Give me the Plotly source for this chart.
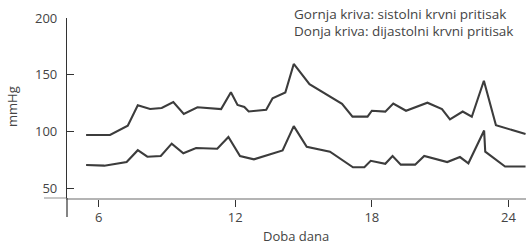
import plotly.graph_objects as go

# Hour of day (x) and blood pressure in mmHg (y)
sys_hours = [5.45, 6.50, 7.28, 7.72, 8.26, 8.77, 9.28, 9.74, 10.34, 11.38, 11.81, 12.10,
             12.40, 12.59, 13.36, 13.64, 14.20, 14.57, 15.26, 16.69, 17.15, 17.81, 18.00,
             18.59, 18.94, 19.50, 20.44, 21.08, 21.43, 21.99, 22.39, 22.92, 23.45, 24.75]
systolic = [96.9, 96.9, 105.1, 123.1, 119.8, 120.7, 126.0, 115.4, 121.4, 119.8, 134.6, 123.4,
            121.6, 117.6, 119.1, 129.3, 134.4, 159.5, 141.7, 124.3, 113.1, 113.1, 118.3,
            117.5, 124.7, 118.3, 125.4, 119.7, 110.6, 117.6, 113.0, 144.7, 105.5, 97.8]

dia_hours = [5.45, 6.25, 7.23, 7.72, 8.14, 8.73, 9.21, 9.72, 10.28, 11.21, 11.70, 12.21,
             12.82, 14.08, 14.57, 15.14, 16.16, 17.17, 17.67, 17.95, 18.59, 18.91, 19.27,
             19.90, 20.30, 21.31, 21.87, 22.24, 22.93, 22.98, 23.85, 24.75]
diastolic = [70.5, 69.9, 73.1, 83.5, 77.8, 78.4, 89.3, 80.8, 85.5, 84.8, 95.2, 78.4,
             75.5, 83.3, 104.7, 86.5, 82.2, 68.5, 68.5, 74.2, 71.6, 78.3, 70.8,
             70.8, 78.4, 73.1, 77.5, 72.0, 100.9, 82.2, 69.2, 69.2]

x_ticks = [6, 12, 18, 24]
y_ticks = [50, 100, 150, 200]
note_lines = ["Gornja kriva: sistolni krvni pritisak", "Donja kriva: dijastolni krvni pritisak"]
x_title = "Doba dana"
y_title = "mmHg"

FONT = "Open Sans"
TXT = "#444444"
LINE = "#3c3c3c"
W, H = 526, 244
L, R, T, B = 67, 0, 18, 46
PW, PH = W - L - R, H - T - B


def px_x(px):
    return (px - L) / PW


def px_y(py):
    return 1 - (py - T) / PH


fig = go.Figure()
fig.add_trace(go.Scatter(x=sys_hours, y=systolic, mode="lines",
                         line=dict(color=LINE, width=2.1), hoverinfo="skip"))
fig.add_trace(go.Scatter(x=dia_hours, y=diastolic, mode="lines",
                         line=dict(color=LINE, width=2.1), hoverinfo="skip"))

fig.update_layout(
    width=W, height=H,
    margin=dict(l=L, r=R, t=T, b=B, autoexpand=False),
    paper_bgcolor="white", plot_bgcolor="white",
    showlegend=False,
    font=dict(family=FONT, size=13, color=TXT),
    xaxis=dict(range=[4.611, 24.77], tickvals=x_ticks, ticktext=[str(v) for v in x_ticks],
               showgrid=False, zeroline=False, showline=True, linecolor="#b4b4b4", linewidth=1.5,
               ticks="outside", ticklen=7, tickcolor="#333333", tickwidth=1.2,
               automargin=False, tickfont=dict(size=13, color=TXT)),
    yaxis=dict(range=[41.42, 200], tickvals=y_ticks, ticktext=[str(v) for v in y_ticks],
               showgrid=False, zeroline=False, showline=True, linecolor="#333333", linewidth=1.2,
               ticks="inside", ticklen=7, tickcolor="#333333", tickwidth=1.2,
               ticklabelstandoff=6,
               automargin=False, tickfont=dict(size=13, color=TXT)),
)

# extensions of the axis lines beyond the plotting area
fig.add_shape(type="line", xref="paper", yref="paper", x0=px_x(44), x1=0, y0=0, y1=0,
              line=dict(color="#b4b4b4", width=1.5), layer="below")
fig.add_shape(type="line", xref="paper", yref="paper", x0=0, x1=0, y0=px_y(217), y1=0,
              line=dict(color="#333333", width=1.2))

fig.add_annotation(text=note_lines[0], x=px_x(292), y=px_y(14), xref="paper", yref="paper",
                   xanchor="left", yanchor="middle", showarrow=False, font=dict(size=13.5, color=TXT))
fig.add_annotation(text=note_lines[1], x=px_x(292), y=px_y(31), xref="paper", yref="paper",
                   xanchor="left", yanchor="middle", showarrow=False, font=dict(size=13.5, color=TXT))
fig.add_annotation(text=x_title, x=px_x(296), y=px_y(235.5), xref="paper", yref="paper",
                   xanchor="center", yanchor="middle", showarrow=False, borderpad=0,
                   font=dict(size=13, color=TXT))
fig.add_annotation(text=y_title, x=px_x(12), y=px_y(107), xref="paper", yref="paper", textangle=-90,
                   xanchor="center", yanchor="middle", showarrow=False, font=dict(size=13, color=TXT))

fig.write_html("out.html", config={"displayModeBar": False},
               post_script="document.body.style.margin='0';")
